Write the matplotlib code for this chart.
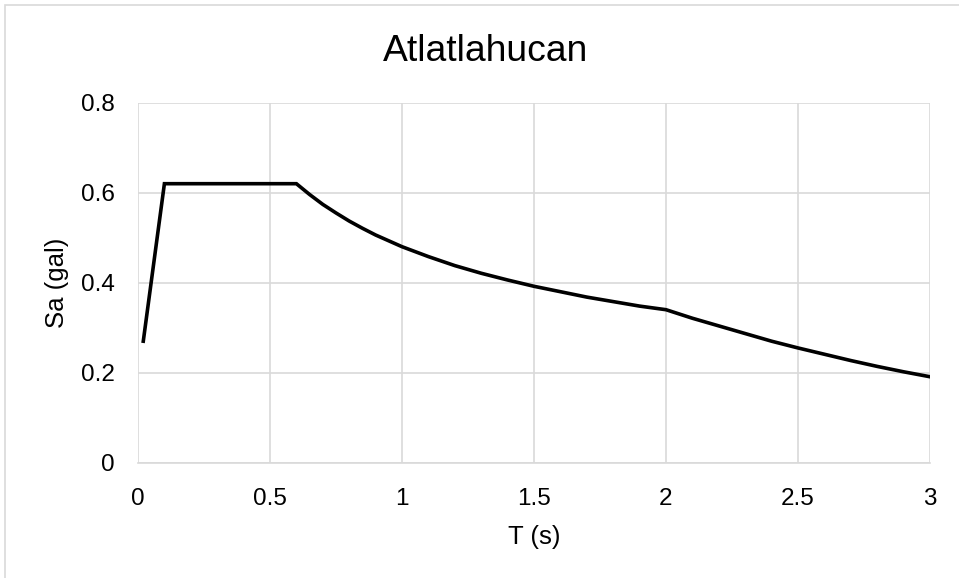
import matplotlib
matplotlib.use("Agg")
import matplotlib.pyplot as plt
from matplotlib.patches import Rectangle

plt.rcParams['font.family'] = ['Liberation Sans', 'DejaVu Sans']

# espectro de diseno
T = [0.02, 0.1, 0.2, 0.3, 0.4, 0.5, 0.6, 0.65, 0.7, 0.75, 0.8, 0.85, 0.9, 0.95, 1.0,
     1.1, 1.2, 1.3, 1.4, 1.5, 1.6, 1.7, 1.8, 1.9, 2.0,
     2.1, 2.2, 2.3, 2.4, 2.5, 2.6, 2.7, 2.8, 2.9, 3.0]
Sa = [0.27, 0.62, 0.62, 0.62, 0.62, 0.62, 0.62, 0.596, 0.574, 0.555, 0.537, 0.521, 0.506, 0.493, 0.480,
      0.458, 0.438, 0.421, 0.406, 0.392, 0.380, 0.368, 0.358, 0.348, 0.340,
      0.321, 0.304, 0.287, 0.270, 0.255, 0.241, 0.227, 0.214, 0.202, 0.191]

xticks = [0, 0.5, 1, 1.5, 2, 2.5, 3]
xtick_labels = ['0', '0.5', '1', '1.5', '2', '2.5', '3']
yticks = [0, 0.2, 0.4, 0.6, 0.8]
ytick_labels = ['0', '0.2', '0.4', '0.6', '0.8']

fig = plt.figure(figsize=(9.59, 5.78), dpi=100)
# borde del area del grafico (solo visible arriba e izquierda)
fig.patches.append(Rectangle((5/959, -0.1), 1.2, 1 - 5/578 + 0.1, transform=fig.transFigure,
                             fill=False, edgecolor='#D9D9D9', lw=1.2))

ax = fig.add_axes([138/959, 1 - 462.7/578, (930 - 138)/959, (462.7 - 102.7)/578])
ax.plot(T, Sa, color='black', lw=2.6, solid_joinstyle='miter', zorder=3)

ax.set_xlim(0, 3)
ax.set_ylim(0, 0.8)
ax.set_xticks(xticks)
ax.set_xticklabels(xtick_labels)
ax.set_yticks(yticks)
ax.set_yticklabels(ytick_labels)
ax.tick_params(length=0, labelsize=17.5)
ax.tick_params(axis='x', pad=18)
ax.tick_params(axis='y', pad=16.5)
ax.grid(True, color='#D9D9D9', lw=1.2)
ax.set_axisbelow(True)
for s in ['top', 'right', 'left']:
    ax.spines[s].set_visible(False)
ax.spines['bottom'].set_color('#D9D9D9')
ax.spines['bottom'].set_linewidth(1.2)

ax.set_xlabel('T (s)', fontsize=18.5)
ax.set_ylabel('Sa (gal)', fontsize=18.5)
ax.xaxis.set_label_coords(0.5, (462.7 - 537) / 360)
ax.yaxis.set_label_coords((57 - 138) / 792, 0.5)
ax.xaxis.label.set_va('center')
ax.yaxis.label.set_va('center')
fig.text(486/959, 1 - 60.7/578, 'Atlatlahucan', fontsize=26.8, ha='center', va='baseline')

fig.savefig('out.png', dpi=100)
